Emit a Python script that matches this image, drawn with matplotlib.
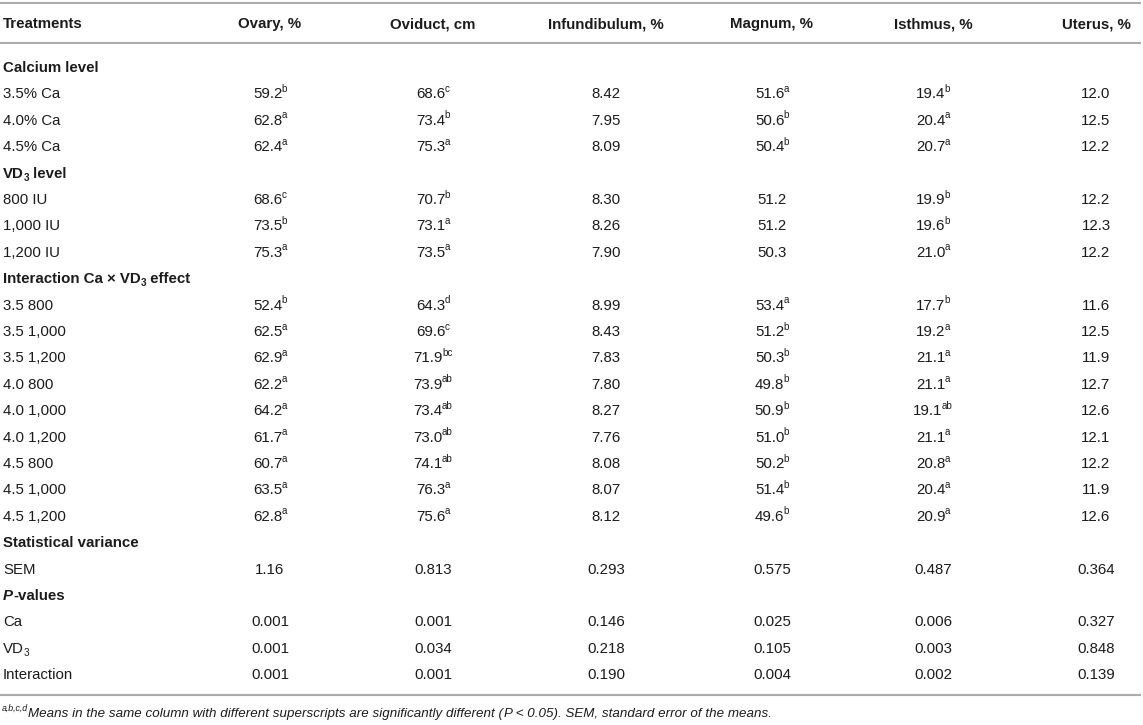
import matplotlib
matplotlib.use("Agg")
import matplotlib.pyplot as plt

W, H = 1143, 725
FS = 10.8          # body font size, pt (about 15 px at 100 dpi)
FOOT_FS = 9.6
INK = "#1b1b1b"
RULE = "#ababab"
LEFT = 3

columns = ["Ovary, %", "Oviduct, cm", "Infundibulum, %", "Magnum, %", "Isthmus, %", "Uterus, %"]
col_x = [270, 433, 606, 772, 933, 1096]

ca_rows = ["3.5% Ca", "4.0% Ca", "4.5% Ca"]
vd_rows = ["800 IU", "1,000 IU", "1,200 IU"]
int_rows = ["3.5 800", "3.5 1,000", "3.5 1,200", "4.0 800", "4.0 1,000",
            "4.0 1,200", "4.5 800", "4.5 1,000", "4.5 1,200"]

ovary = [59.2, 62.8, 62.4, 68.6, 73.5, 75.3,
         52.4, 62.5, 62.9, 62.2, 64.2, 61.7, 60.7, 63.5, 62.8]
ovary_sup = ["b", "a", "a", "c", "b", "a",
             "b", "a", "a", "a", "a", "a", "a", "a", "a"]
oviduct = [68.6, 73.4, 75.3, 70.7, 73.1, 73.5,
           64.3, 69.6, 71.9, 73.9, 73.4, 73.0, 74.1, 76.3, 75.6]
oviduct_sup = ["c", "b", "a", "b", "a", "a",
               "d", "c", "bc", "ab", "ab", "ab", "ab", "a", "a"]
infund = [8.42, 7.95, 8.09, 8.30, 8.26, 7.90,
          8.99, 8.43, 7.83, 7.80, 8.27, 7.76, 8.08, 8.07, 8.12]
infund_sup = [""] * 15
magnum = [51.6, 50.6, 50.4, 51.2, 51.2, 50.3,
          53.4, 51.2, 50.3, 49.8, 50.9, 51.0, 50.2, 51.4, 49.6]
magnum_sup = ["a", "b", "b", "", "", "",
              "a", "b", "b", "b", "b", "b", "b", "b", "b"]
isthmus = [19.4, 20.4, 20.7, 19.9, 19.6, 21.0,
           17.7, 19.2, 21.1, 21.1, 19.1, 21.1, 20.8, 20.4, 20.9]
isthmus_sup = ["b", "a", "a", "b", "b", "a",
               "b", "a", "a", "a", "ab", "a", "a", "a", "a"]
uterus = [12.0, 12.5, 12.2, 12.2, 12.3, 12.2,
          11.6, 12.5, 11.9, 12.7, 12.6, 12.1, 12.2, 11.9, 12.6]
uterus_sup = [""] * 15
decimals = [1, 1, 2, 1, 1, 1]

sem = ["1.16", "0.813", "0.293", "0.575", "0.487", "0.364"]
p_ca = ["0.001", "0.001", "0.146", "0.025", "0.006", "0.327"]
p_vd3 = ["0.001", "0.034", "0.218", "0.105", "0.003", "0.848"]
p_int = ["0.001", "0.001", "0.190", "0.004", "0.002", "0.139"]

plt.rcParams["font.family"] = ["Liberation Sans", "DejaVu Sans"]

fig = plt.figure(figsize=(W / 100, H / 100), dpi=100)
ax = fig.add_axes([0, 0, 1, 1])
ax.set_xlim(0, W)
ax.set_ylim(H, 0)
ax.axis("off")
renderer = fig.canvas.get_renderer()

# weight, style, size factor, baseline shift (in font sizes), kerning before (px)
STYLES = {
    "n": ("normal", "normal", 1.0, 0.0, 0.0),
    "b": ("bold", "normal", 1.0, 0.0, 0.0),
    "bi": ("bold", "italic", 1.0, 0.0, 0.0),
    "i": ("normal", "italic", 1.0, 0.0, 0.0),
    "sup": ("normal", "normal", 0.66, -0.42, -0.6),
    "supi": ("normal", "italic", 0.66, -0.42, 0.0),
    "sub": ("normal", "normal", 0.66, 0.22, 0.0),
    "subb": ("bold", "normal", 0.66, 0.22, 0.0),
}


def runs(x, y, parts, ha="left", size=FS):
    """Draw a run of text pieces with mixed style, baseline at y (pixels)."""
    texts = []
    total = 0.0
    for s, st in parts:
        if not s:
            continue
        wt, sty, k, dy, kern = STYLES[st]
        t = ax.text(0, round(y + dy * size / 0.72), s, fontsize=size * k,
                    fontweight=wt, fontstyle=sty,
                    color=INK, va="baseline", ha="left")
        w = t.get_window_extent(renderer=renderer).width
        texts.append((t, w, kern))
        total += w + kern
    if ha == "center":
        cur = x - total / 2
    elif ha == "right":
        cur = x - total
    else:
        cur = x
    for t, w, kern in texts:
        cur += kern
        t.set_x(cur)
        cur += w


def hrule(y):
    ax.plot([0, W - 2], [y, y], color=RULE, lw=1.5, solid_capstyle="butt")


# rules
hrule(3)
hrule(43)
hrule(695)

# header
HB = 28
runs(LEFT, HB, [("Treatments", "b")])
for cx, name in zip(col_x, columns):
    runs(cx, HB, [(name, "b")], ha="center")

ROW0 = 72.0
STEP = 26.4


def row_y(i):
    return ROW0 + STEP * i


value_cols = [(ovary, ovary_sup), (oviduct, oviduct_sup), (infund, infund_sup),
              (magnum, magnum_sup), (isthmus, isthmus_sup), (uterus, uterus_sup)]


def data_row(i, label, k):
    y = row_y(i)
    runs(LEFT, y, label)
    for c, (vals, sups) in enumerate(value_cols):
        s = f"{vals[k]:.{decimals[c]}f}"
        runs(col_x[c], y, [(s, "n"), (sups[k], "sup")], ha="center")


def plain_row(i, label, vals):
    y = row_y(i)
    runs(LEFT, y, label)
    for c, v in enumerate(vals):
        runs(col_x[c], y, [(v, "n")], ha="center")


i = 0
runs(LEFT, row_y(i), [("Calcium level", "b")])
i += 1
k = 0
for lab in ca_rows:
    data_row(i, [(lab, "n")], k)
    i += 1
    k += 1

runs(LEFT, row_y(i), [("VD", "b"), ("3", "subb"), (" level", "b")])
i += 1
for lab in vd_rows:
    data_row(i, [(lab, "n")], k)
    i += 1
    k += 1

runs(LEFT, row_y(i), [("Interaction Ca \u00d7 VD", "b"), ("3", "subb"), (" effect", "b")])
i += 1
for lab in int_rows:
    data_row(i, [(lab, "n")], k)
    i += 1
    k += 1

runs(LEFT, row_y(i), [("Statistical variance", "b")])
i += 1
plain_row(i, [("SEM", "n")], sem)
i += 1
runs(LEFT, row_y(i), [("P", "bi"), ("-values", "b")])
i += 1
plain_row(i, [("Ca", "n")], p_ca)
i += 1
plain_row(i, [("VD", "n"), ("3", "sub")], p_vd3)
i += 1
plain_row(i, [("Interaction", "n")], p_int)

# footnote
runs(2, 717, [("a,b,c,d", "supi"),
              ("Means in the same column with different superscripts are significantly "
               "different (", "i"), ("P", "i"),
              (" < 0.05). SEM, standard error of the means.", "i")], size=FOOT_FS)

fig.savefig("out.png", dpi=100, facecolor="white")
